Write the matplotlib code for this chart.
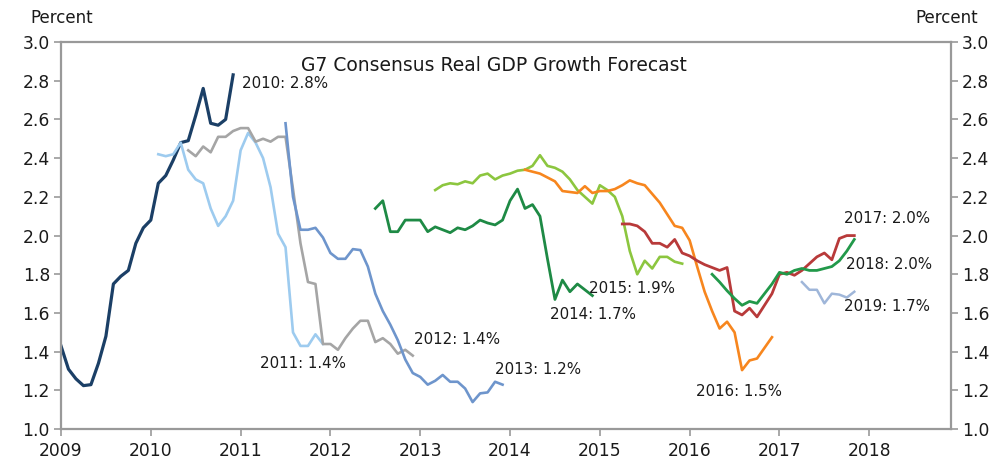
import matplotlib.pyplot as plt

# monthly consensus forecasts, one list per forecast year: (first year, first month, values)
f2010 = [1.43, 1.31, 1.26, 1.225, 1.23, 1.34, 1.48, 1.75, 1.79, 1.82, 1.96, 2.04,
         2.08, 2.27, 2.31, 2.39, 2.48, 2.49, 2.62, 2.76, 2.58, 2.57, 2.60, 2.83]
f2011 = [2.42, 2.41, 2.42, 2.48, 2.34, 2.29, 2.27, 2.14, 2.05, 2.10, 2.18,
         2.44, 2.53, 2.48, 2.40, 2.25, 2.01, 1.94, 1.50, 1.43, 1.43, 1.49, 1.44]
f2012 = [2.44, 2.41, 2.46, 2.43, 2.51, 2.51, 2.54,
         2.555, 2.555, 2.485, 2.50, 2.485, 2.51, 2.51, 2.24, 1.96, 1.76, 1.75, 1.44,
         1.44, 1.41, 1.47, 1.52, 1.56, 1.56, 1.45, 1.47, 1.44, 1.39, 1.41, 1.38]
f2013 = [2.58, 2.20, 2.03, 2.03, 2.04, 1.99,
         1.91, 1.88, 1.88, 1.93, 1.925, 1.84, 1.70, 1.61, 1.54, 1.46, 1.36, 1.29,
         1.27, 1.23, 1.25, 1.28, 1.245, 1.245, 1.21, 1.14, 1.185, 1.19, 1.245, 1.23]
f2014 = [2.14, 2.18, 2.02, 2.02, 2.08, 2.08,
         2.08, 2.02, 2.045, 2.03, 2.015, 2.04, 2.03, 2.05, 2.08, 2.065, 2.055, 2.08,
         2.18, 2.24, 2.14, 2.16, 2.10, 1.88, 1.67, 1.77, 1.71, 1.75, 1.72, 1.69]
f2015 = [2.235, 2.26, 2.27, 2.265, 2.28, 2.27, 2.31, 2.32, 2.29, 2.31,
         2.32, 2.335, 2.34, 2.36, 2.415, 2.36, 2.35, 2.33, 2.29, 2.235, 2.20, 2.165,
         2.26, 2.235, 2.20, 2.10, 1.92, 1.80, 1.87, 1.83, 1.89, 1.89, 1.865, 1.855]
f2016 = [2.34, 2.33, 2.32, 2.30, 2.28, 2.23, 2.225, 2.22, 2.255, 2.22,
         2.23, 2.23, 2.24, 2.26, 2.285, 2.27, 2.26, 2.215, 2.17, 2.11, 2.05, 2.04,
         1.975, 1.84, 1.71, 1.61, 1.52, 1.555, 1.50, 1.305, 1.355, 1.365, 1.42, 1.475]
f2017 = [2.06, 2.06, 2.05, 2.02, 1.96, 1.96, 1.94, 1.98, 1.91,
         1.895, 1.87, 1.85, 1.835, 1.82, 1.835, 1.61, 1.59, 1.625, 1.58, 1.64, 1.70,
         1.80, 1.81, 1.795, 1.82, 1.855, 1.89, 1.91, 1.875, 1.985, 2.00, 2.00]
f2018 = [1.80, 1.76, 1.715, 1.675, 1.64, 1.66, 1.65, 1.70, 1.75,
         1.81, 1.80, 1.82, 1.83, 1.82, 1.82, 1.83, 1.84, 1.87, 1.92, 1.98]
f2019 = [1.76, 1.72, 1.72, 1.65, 1.70, 1.695, 1.68, 1.71]

series = [
    ("2010: 2.8%", 2009, 1, f2010, "#1b3f66", 2.3),
    ("2011: 1.4%", 2010, 2, f2011, "#9dcbef", 1.9),
    ("2012: 1.4%", 2010, 6, f2012, "#a5a5a5", 1.9),
    ("2013: 1.2%", 2011, 7, f2013, "#6e95cc", 1.9),
    ("2014: 1.7%", 2012, 7, f2014, "#1e8a45", 2.0),
    ("2015: 1.9%", 2013, 3, f2015, "#8cc63f", 1.9),
    ("2016: 1.5%", 2014, 3, f2016, "#f7861e", 1.9),
    ("2017: 2.0%", 2015, 4, f2017, "#b83a3a", 2.0),
    ("2018: 2.0%", 2016, 4, f2018, "#22994a", 2.0),
    ("2019: 1.7%", 2017, 4, f2019, "#9fb6d9", 1.8),
]

# label spots (x in years, y in percent)
label_xy = [(2011.02, 2.785), (2011.22, 1.338), (2012.93, 1.462), (2013.83, 1.307),
            (2014.45, 1.594), (2014.88, 1.727), (2016.07, 1.195), (2017.72, 2.09),
            (2017.74, 1.852), (2017.72, 1.632)]

plt.rcParams['font.family'] = ['DejaVu Sans']
fig = plt.figure(figsize=(10, 4.61), dpi=100)
ax = fig.add_axes([0.061, 0.069, 0.890, 0.840])

for (lab, y0, m0, vals, col, lw), (lx, ly) in zip(series, label_xy):
    xs = [y0 + (m0 - 1 + i) / 12 for i in range(len(vals))]
    ax.plot(xs, vals, color=col, lw=lw, solid_joinstyle='round')
    ax.text(lx, ly, lab, fontsize=10.8, color='#1a1a1a', va='center', ha='left')

ax.set_xlim(2009, 2018.91)
ax.set_ylim(1.0, 3.0)
ax.set_xticks(range(2009, 2019))
ax.set_yticks([1.0 + 0.2 * i for i in range(11)])
ax.set_yticklabels(['%.1f' % (1.0 + 0.2 * i) for i in range(11)])
ax.tick_params(axis='y', which='both', left=True, right=True, labelleft=True,
               labelright=True, direction='out', length=5, width=1.2,
               color='#999999', labelsize=12.3, labelcolor='#1a1a1a', pad=3)
ax.tick_params(axis='x', direction='out', length=5, width=1.2, color='#999999',
               labelsize=12.3, labelcolor='#1a1a1a', pad=4)
for s in ax.spines.values():
    s.set_color('#999999')
    s.set_linewidth(1.6)

ax.text(0.487, 0.94, 'G7 Consensus Real GDP Growth Forecast', transform=ax.transAxes,
        ha='center', va='center', fontsize=13.5, color='#1a1a1a')
fig.text(0.030, 0.962, 'Percent', fontsize=12, color='#1a1a1a', va='center')
fig.text(0.915, 0.962, 'Percent', fontsize=12, color='#1a1a1a', va='center')

fig.savefig('out.png', dpi=100)
